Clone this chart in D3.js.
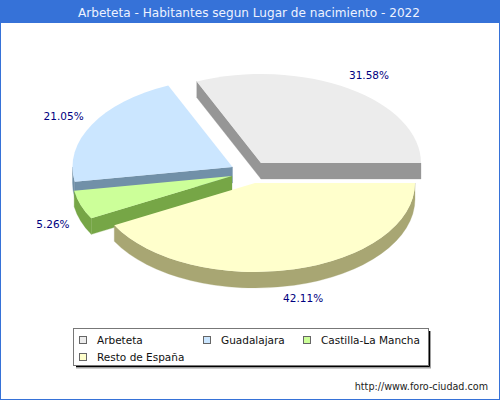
<!DOCTYPE html>
<html lang="es">
<head>
<meta charset="utf-8">
<title>Arbeteta</title>
<style>
html,body{margin:0;padding:0;background:#fff;overflow:hidden;}
svg{display:block;font-family:"DejaVu Sans",sans-serif;}
</style>
</head>
<body>
<svg id="chart" width="500" height="400"></svg>
<script src="https://cdn.jsdelivr.net/npm/d3@7"></script>
<script>
// datos
const titleText = 'Arbeteta - Habitantes segun Lugar de nacimiento - 2022';
const footerText = 'http://www.foro-ciudad.com';
const categories = ['Arbeteta', 'Guadalajara', 'Castilla-La Mancha', 'Resto de España'];
const values = [6, 4, 1, 8];
const percentLabels = ['31.58%', '21.05%', '5.26%', '42.11%'];
const topColors = ['#ececec', '#cbe6ff', '#ccff99', '#ffffcc'];
const sideColors = ['#969696', '#7190a8', '#76a646', '#a8a673'];

// layout
const rx = 160, ry = 89, depth = 16;
const centers = [[261, 163], [232.5, 167], [232, 176], [255, 183]]; // explode
const labelNudge = [[3, 1.5], [0, 0], [2.5, -2.7], [1, -4.8]];

const svg = d3.select('#chart');

const pie = d3.pie().sort(null).startAngle(0).endAngle(2 * Math.PI);
const slices = pie(values);

// angulo 0 = derecha, sentido antihorario
const pt = (i, a, dy = 0) => [
  centers[i][0] + rx * Math.cos(a),
  centers[i][1] - ry * Math.sin(a) + dy
];
const apex = (i, dy = 0) => [centers[i][0], centers[i][1] + dy];

function topPath(i, s) {
  const p0 = pt(i, s.startAngle), p1 = pt(i, s.endAngle);
  const big = s.endAngle - s.startAngle > Math.PI ? 1 : 0;
  return `M${apex(i)}L${p0}A${rx},${ry} 0 ${big} 0 ${p1}Z`;
}
function edgeSide(i, a) {
  const p = pt(i, a), q = pt(i, a, depth), c = apex(i, depth);
  return `M${apex(i)}L${p}L${q}L${c}Z`;
}
function rimSide(i, a0, a1) {
  // cara curva visible, solo la mitad inferior de la elipse
  const from = Math.max(a0, Math.PI), to = Math.min(a1, 2 * Math.PI);
  if (to <= from) return '';
  const p0 = pt(i, from), p1 = pt(i, to), q0 = pt(i, from, depth), q1 = pt(i, to, depth);
  const big = to - from > Math.PI ? 1 : 0;
  return `M${p0}A${rx},${ry} 0 ${big} 0 ${p1}L${q1}A${rx},${ry} 0 ${big} 1 ${q0}Z`;
}

// fondo, marco y titulo
svg.append('rect').attr('x', 0.5).attr('y', 0.5).attr('width', 499).attr('height', 399)
  .attr('fill', '#fff').attr('stroke', '#3672d8').attr('stroke-width', 1);
svg.append('rect').attr('width', 500).attr('height', 23).attr('fill', '#3672d8');
svg.append('text').attr('x', 249).attr('y', 16.5).attr('text-anchor', 'middle')
  .attr('font-size', 12.08).attr('fill', '#eef3ff').text(titleText);

// porciones
slices.forEach((s, i) => {
  const g = svg.append('g');
  // lado de salida y lado de entrada segun queden de frente
  const sides = [];
  if (i === 0) sides.push(edgeSide(i, s.startAngle), edgeSide(i, s.endAngle));
  if (i === 1) sides.push(edgeSide(i, s.endAngle));
  if (i === 2) sides.push(edgeSide(i, s.endAngle));
  sides.push(rimSide(i, s.startAngle, s.endAngle));
  g.selectAll('path.side').data(sides.filter(Boolean)).join('path')
    .attr('class', 'side').attr('d', d => d)
    .attr('fill', sideColors[i]).attr('stroke', sideColors[i]).attr('stroke-width', 0.3);
  g.append('path').attr('d', topPath(i, s)).attr('fill', topColors[i]);
});

// etiquetas
const labelRx = 192, labelRy = 107;
svg.selectAll('text.pct').data(slices).join('text')
  .attr('class', 'pct')
  .attr('x', (s, i) => centers[i][0] + labelRx * Math.cos((s.startAngle + s.endAngle) / 2) + labelNudge[i][0])
  .attr('y', (s, i) => {
    const m = (s.startAngle + s.endAngle) / 2;
    return centers[i][1] - labelRy * Math.sin(m) + (m > Math.PI ? depth : 0) + labelNudge[i][1] + 4;
  })
  .attr('text-anchor', 'middle').attr('font-size', 10.5).attr('fill', '#000080')
  .text((s, i) => percentLabels[i]);

// leyenda
const lx = 73, ly = 328, lw = 355, lh = 37;
svg.append('rect').attr('x', lx + 3).attr('y', ly + 3).attr('width', lw).attr('height', lh + 0.5).attr('fill', '#a0a0a0');
svg.append('path').attr('d', `M${lx + 3},${ly + lh + 1.5}H${lx + lw + 1.5}V${ly + 3}`)
  .attr('fill', 'none').attr('stroke', '#000').attr('stroke-width', 1);
svg.append('rect').attr('x', lx + 0.5).attr('y', ly + 0.5).attr('width', lw).attr('height', lh)
  .attr('fill', '#fff').attr('stroke', '#777').attr('stroke-width', 1);

const legendX = [79, 203, 303, 79];
const legendY = [340, 340, 340, 357];
const legend = svg.selectAll('g.item').data(categories).join('g').attr('class', 'item')
  .attr('transform', (d, i) => `translate(${legendX[i]},${legendY[i]})`);
legend.append('rect').attr('x', 0.5).attr('y', -3.5).attr('width', 7).attr('height', 7)
  .attr('fill', (d, i) => topColors[i]).attr('stroke', '#666').attr('stroke-width', 1);
legend.append('text').attr('x', 18).attr('y', 3.5).attr('font-size', 10.5).attr('fill', '#111').text(d => d);

// pie de pagina
svg.append('text').attr('x', 488).attr('y', 389.5).attr('text-anchor', 'end')
  .attr('font-size', 9.6).attr('fill', '#222').text(footerText);
</script>
</body>
</html>
